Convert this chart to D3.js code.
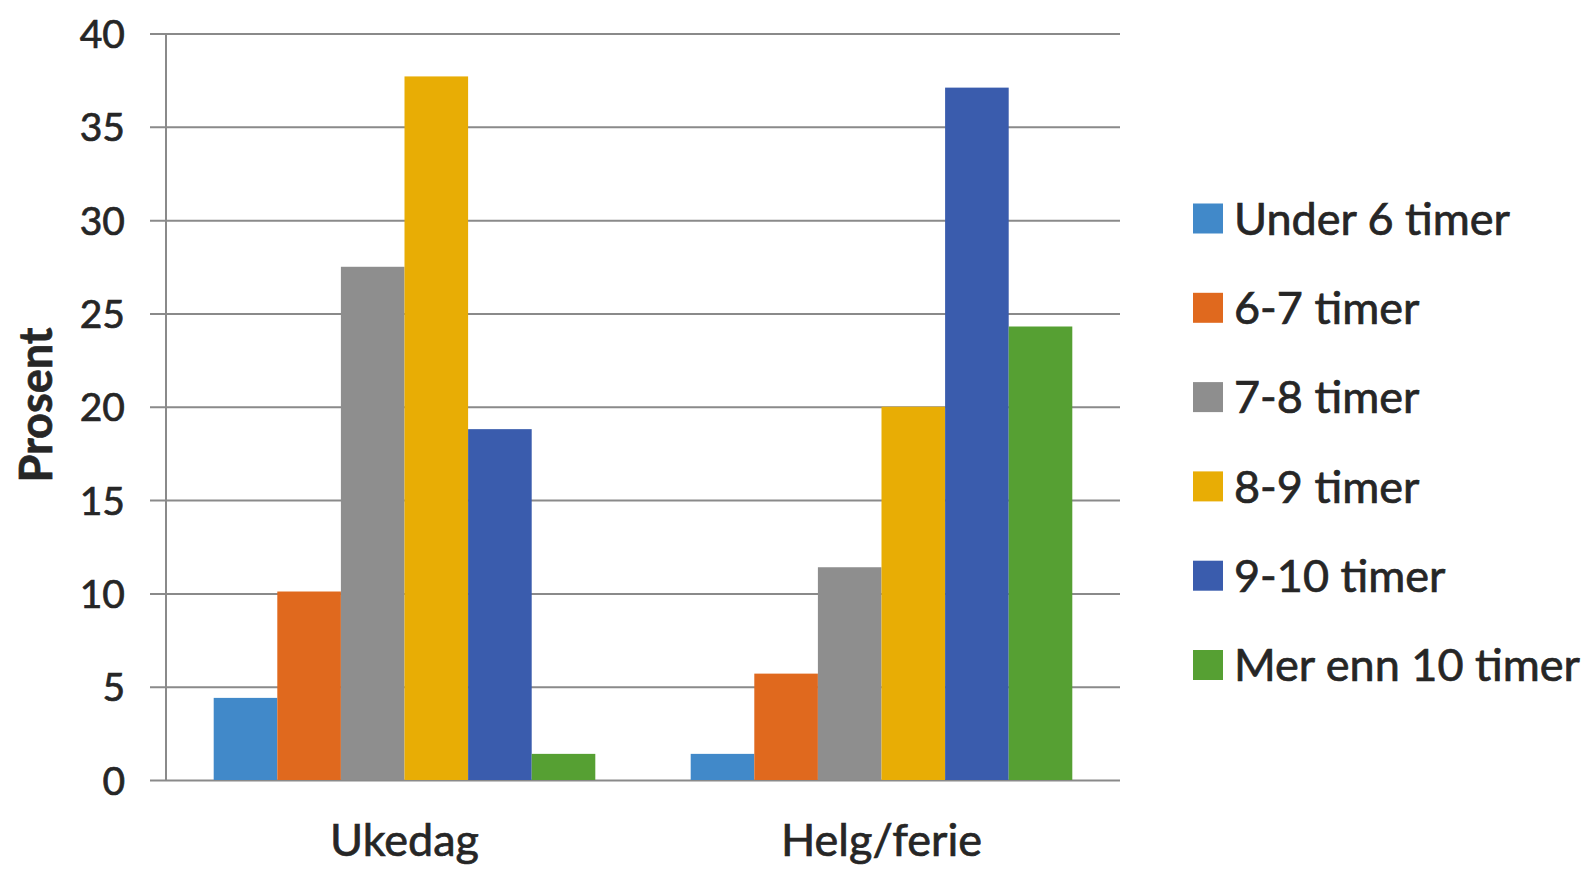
<!DOCTYPE html>
<html>
<head>
<meta charset="utf-8">
<script src="https://cdn.jsdelivr.net/npm/d3@7"></script>
<style>
  html, body { margin: 0; padding: 0; background: #ffffff; }
  svg { display: block; }
  text { font-family: Lato, "Open Sans", sans-serif; fill: #262626; stroke: #262626; stroke-width: 0.7px; }
</style>
</head>
<body>
<svg id="chart" width="1593" height="869"></svg>
<script>
// ---- data ----
const categories = ["Ukedag", "Helg/ferie"];
const seriesNames = ["Under 6 timer", "6-7 timer", "7-8 timer", "8-9 timer", "9-10 timer", "Mer enn 10 timer"];
const ukedagValues = [4.4, 10.1, 27.5, 37.7, 18.8, 1.4];
const helgValues = [1.4, 5.7, 11.4, 20.0, 37.1, 24.3];
const seriesColors = ["#4189c9", "#e0691e", "#8e8e8e", "#e8ad05", "#3a5cad", "#56a033"];
const yTicks = [0, 5, 10, 15, 20, 25, 30, 35, 40];
const yLabel = "Prosent";

const valuesByCategory = [ukedagValues, helgValues];

const svg = d3.select("#chart");

const plot = { left: 166, right: 1120, top: 33.5, bottom: 780 };

const x0 = d3.scaleBand()
  .domain(categories)
  .range([plot.left, plot.right])
  .paddingInner(0.2)
  .paddingOuter(0.1);

const x1 = d3.scaleBand()
  .domain(seriesNames)
  .range([0, x0.bandwidth()])
  .padding(0);

const y = d3.scaleLinear()
  .domain([0, 40])
  .range([plot.bottom, plot.top]);

const color = d3.scaleOrdinal().domain(seriesNames).range(seriesColors);

// gridlines (with tick stubs to the left of the axis)
const grid = svg.append("g")
  .attr("transform", `translate(${plot.right},0)`)
  .call(d3.axisLeft(y).tickValues(yTicks).tickSize(plot.right - 150).tickFormat(""));
grid.select(".domain").remove();
grid.selectAll(".tick line").attr("stroke", "#8a8a8a").attr("stroke-width", 2);

// y axis vertical line
svg.append("line")
  .attr("x1", plot.left).attr("x2", plot.left)
  .attr("y1", y(40)).attr("y2", y(0))
  .attr("stroke", "#8a8a8a").attr("stroke-width", 2);

// y tick labels
const yAxis = svg.append("g")
  .attr("transform", `translate(125,0)`)
  .call(d3.axisLeft(y).tickValues(yTicks).tickSize(0).tickPadding(0));
yAxis.select(".domain").remove();
yAxis.selectAll("text")
  .attr("font-size", 39)
  .attr("font-family", "Lato, sans-serif")
  .attr("fill", "#262626")
  .attr("dy", "0.36em");

// bars
const groups = svg.append("g").selectAll("g")
  .data(categories)
  .join("g")
  .attr("transform", d => `translate(${x0(d)},0)`);

groups.selectAll("rect")
  .data((c, i) => seriesNames.map((s, j) => ({ series: s, value: valuesByCategory[i][j] })))
  .join("rect")
  .attr("x", d => x1(d.series))
  .attr("width", x1.bandwidth())
  .attr("y", d => y(d.value))
  .attr("height", d => y(0) - y(d.value))
  .attr("fill", d => color(d.series));

// category labels
const xAxis = svg.append("g")
  .attr("transform", `translate(0,${plot.bottom})`)
  .call(d3.axisBottom(x0).tickSize(0).tickPadding(0));
xAxis.select(".domain").remove();
xAxis.selectAll("text")
  .attr("font-size", 45)
  .attr("font-family", "Lato, sans-serif")
  .attr("fill", "#262626")
  .attr("y", 76)
  .attr("dy", 0);

// y axis title
svg.append("text")
  .attr("transform", `translate(52,405) rotate(-90)`)
  .attr("text-anchor", "middle")
  .attr("font-size", 45)
  .attr("font-weight", "bold")
  .attr("stroke-width", 0.4)
  .text(yLabel);

// legend
const legend = svg.append("g").attr("transform", "translate(1193,0)");
const legendY = d3.scalePoint().domain(seriesNames).range([218.5, 665]);
const li = legend.selectAll("g")
  .data(seriesNames)
  .join("g")
  .attr("transform", d => `translate(0,${legendY(d)})`);
li.append("rect")
  .attr("x", 0).attr("y", -15)
  .attr("width", 30).attr("height", 30)
  .attr("fill", d => color(d));
li.append("text")
  .attr("x", 41)
  .attr("dy", "0.36em")
  .attr("font-size", 45)
  .text(d => d);
</script>
</body>
</html>
